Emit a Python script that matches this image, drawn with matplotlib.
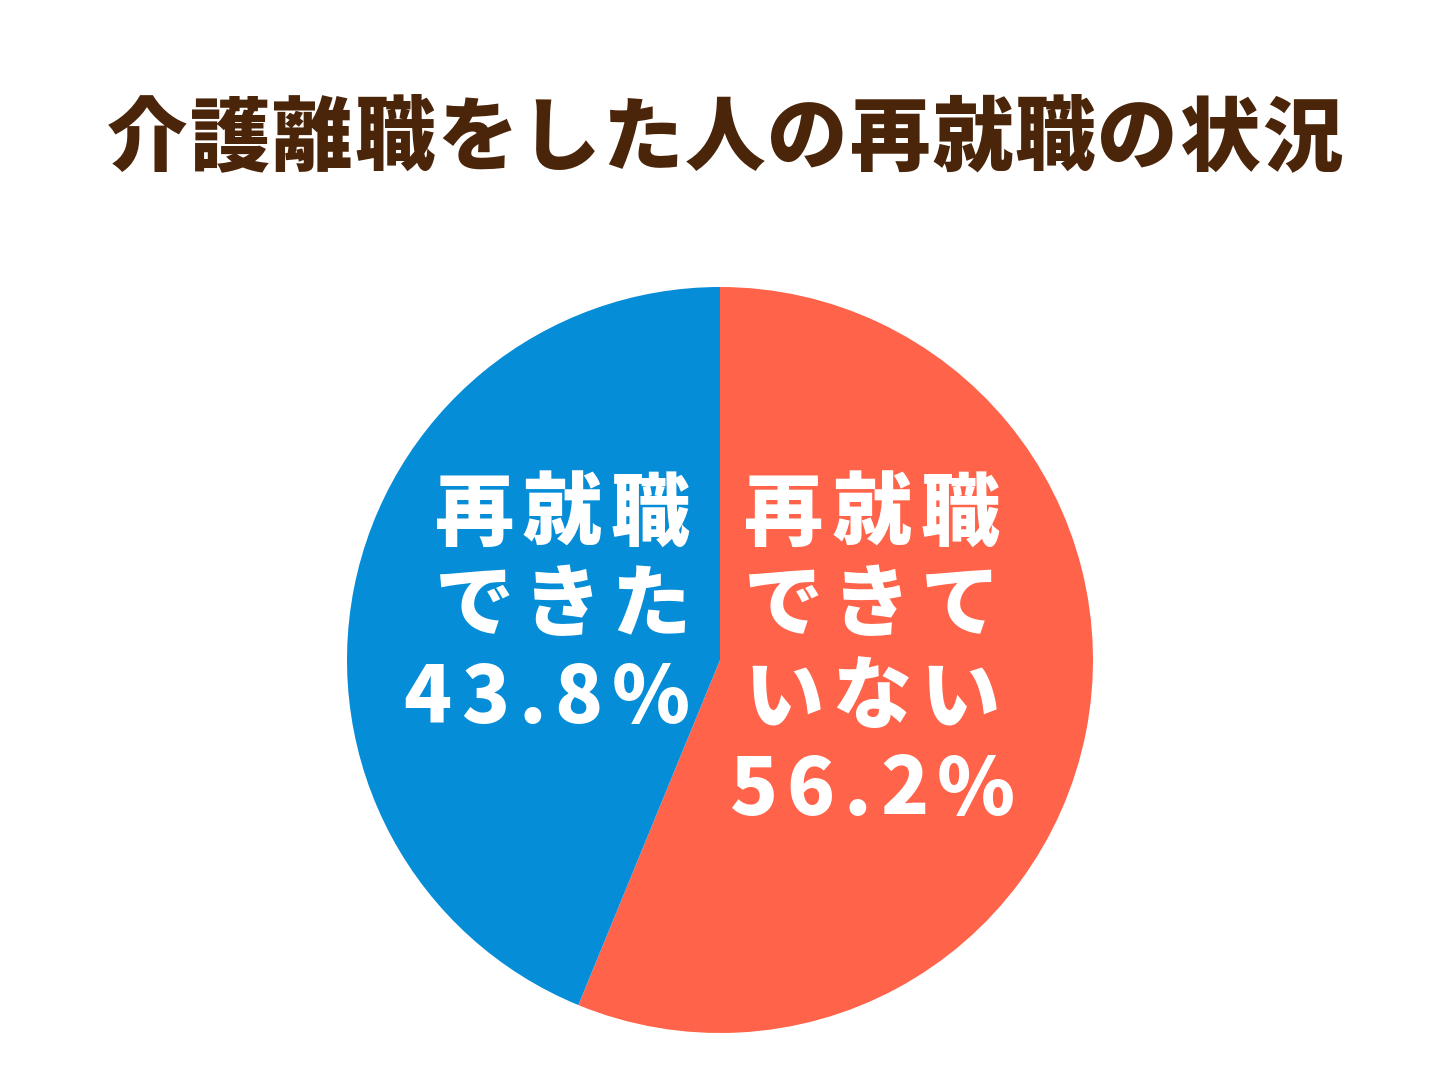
import matplotlib
matplotlib.use('Agg')
import matplotlib.pyplot as plt

plt.rcParams['font.family'] = ['Noto Sans CJK JP', 'DejaVu Sans']

TITLE = '介護離職をした人の再就職の状況'
LABELS = ['再就職できていない', '再就職できた']
VALUES = [56.2, 43.8]
COLORS = ['#FF634A', '#068DD8']
LINES = [['再就職', 'できて', 'いない', '56.2%'],
         ['再就職', 'できた', '43.8%']]

W, H = 1452, 1089
fig = plt.figure(figsize=(W / 100, H / 100), dpi=100)
fig.patch.set_facecolor('white')
renderer = fig.canvas.get_renderer()

cx, cy, r = 720, 660, 373
ax = fig.add_axes([(cx - r) / W, (H - cy - r) / H, 2 * r / W, 2 * r / H])
ax.pie(VALUES, colors=COLORS, startangle=90, counterclock=False,
       wedgeprops=dict(linewidth=0))
ax.set_xlim(-1, 1)
ax.set_ylim(-1, 1)
ax.set_aspect('auto')
ax.axis('off')


def tracked(s, x, y, ha, size, color, track):
    # 文字ごとに描いて字間を広げる（x, y はピクセル、y は上から）
    arts, widths = [], []
    for ch in s:
        t = fig.text(0, 1 - y / H, ch, va='center', ha='left', fontsize=size,
                     fontweight='heavy', color=color)
        widths.append(t.get_window_extent(renderer).width)
        arts.append(t)
    total = sum(widths) + track * (len(s) - 1)
    x0 = {'left': x, 'center': x - total / 2, 'right': x - total}[ha]
    for t, w in zip(arts, widths):
        t.set_x(x0 / W)
        x0 += w + track


tracked(TITLE, 725, 140, 'center', 58, '#4A250A', 2)

for i, line in enumerate(LINES[0]):
    tracked(line, 872, 515 + 92 * i, 'center', 57, 'white', 9)
for i, line in enumerate(LINES[1]):
    tracked(line, 690, 515 + 92 * i, 'right', 57, 'white', 9)

fig.savefig('out.png', dpi=100)
